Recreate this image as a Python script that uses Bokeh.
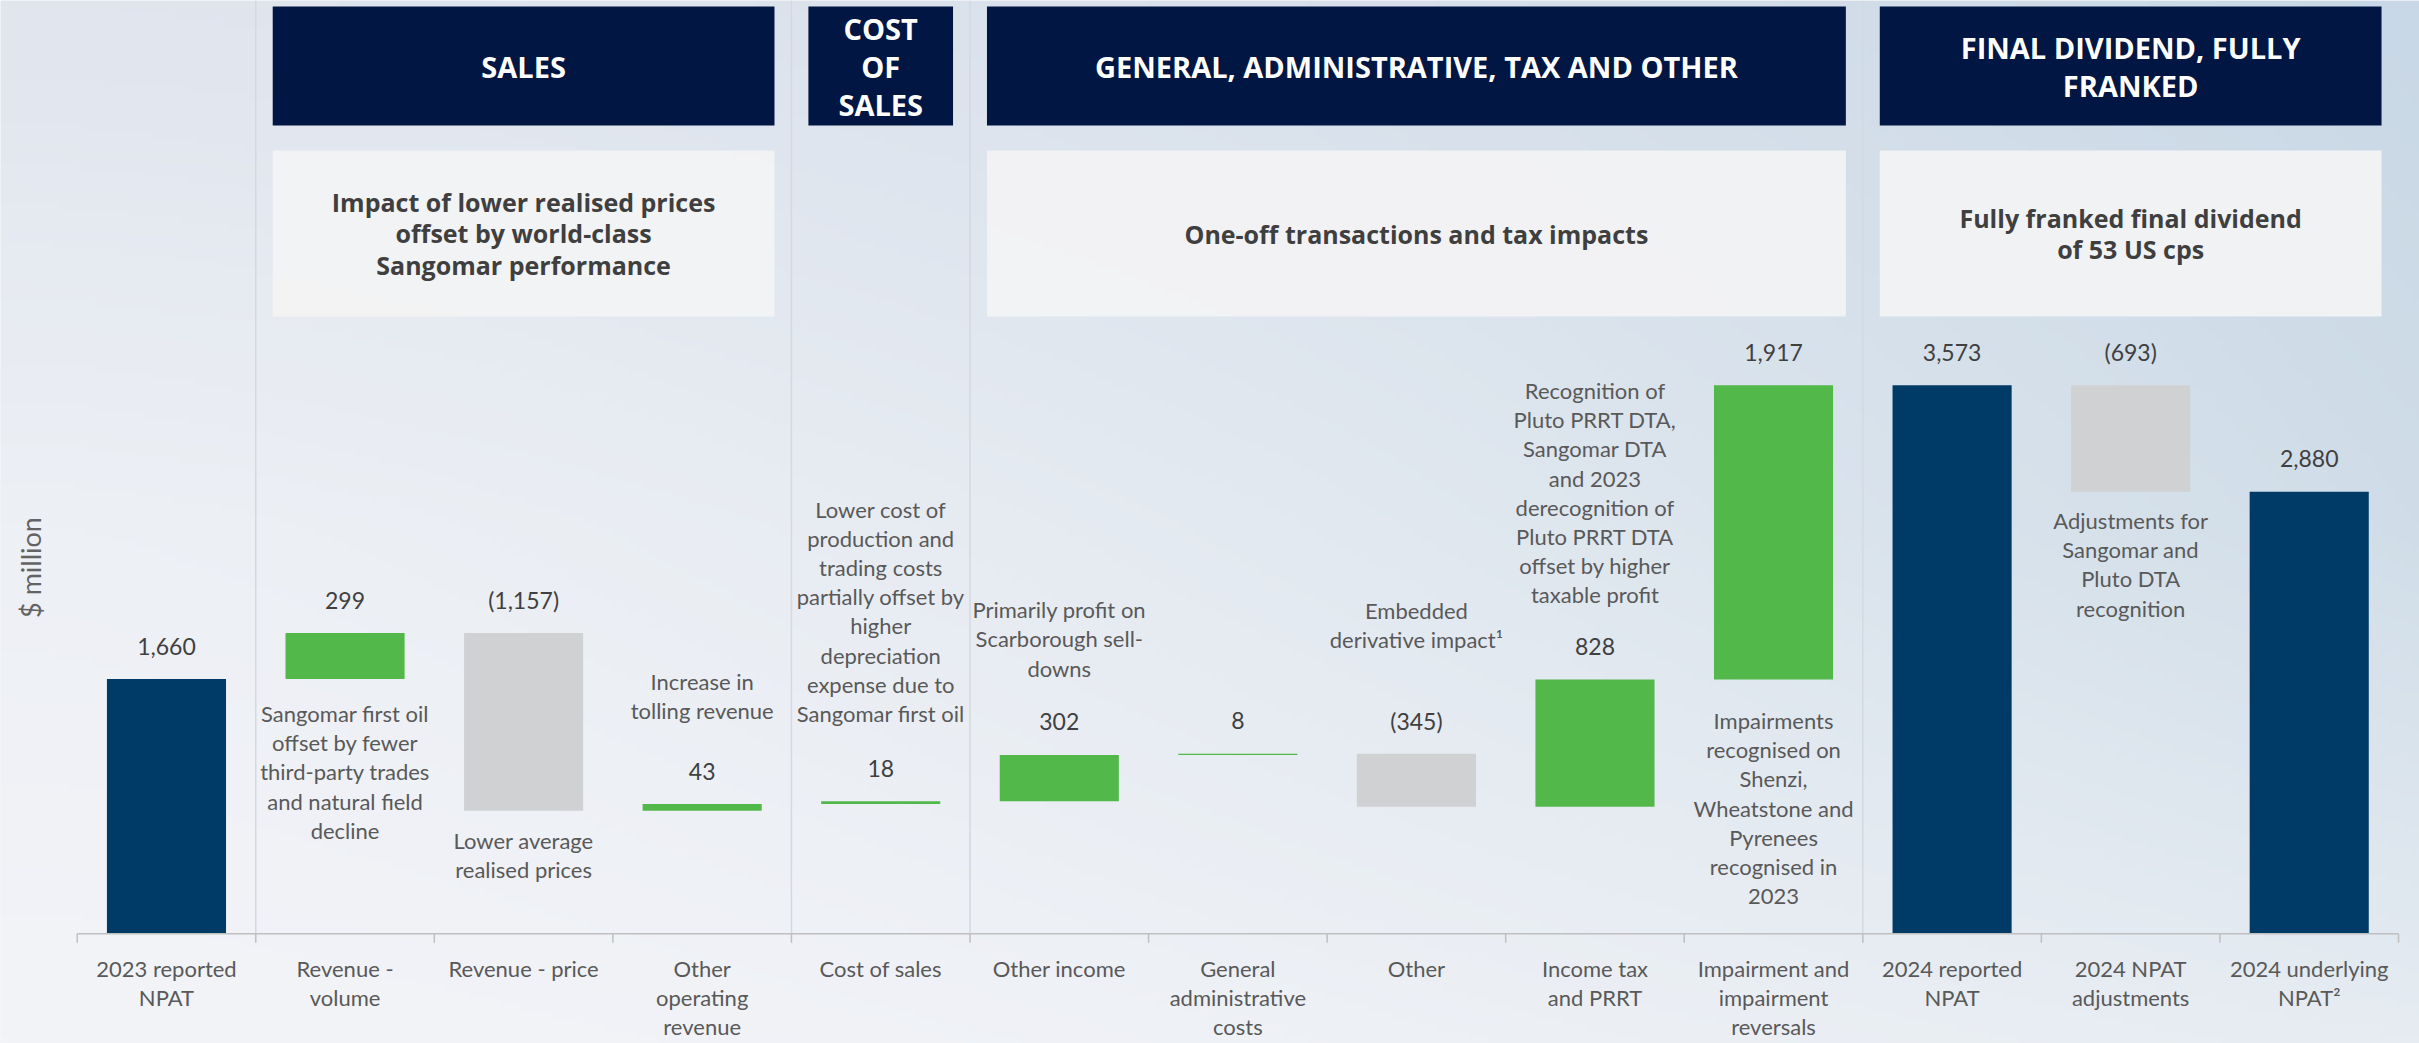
import numpy as np
from bokeh.plotting import figure
from bokeh.models import Range1d, ColumnDataSource
from bokeh.core.properties import value
from bokeh.embed import file_html
from bokeh.resources import INLINE

# ---------------- data ----------------
categories = [
    "2023 reported\nNPAT", "Revenue -\nvolume", "Revenue - price",
    "Other\noperating\nrevenue", "Cost of sales", "Other income",
    "General\nadministrative\ncosts", "Other", "Income tax\nand PRRT",
    "Impairment and\nimpairment\nreversals", "2024 reported\nNPAT",
    "2024 NPAT\nadjustments", "2024 underlying\nNPAT\u00b2",
]
values = [1660, 299, -1157, 43, 18, 302, 8, -345, 828, 1917, 3573, -693, 2880]
kinds = ["total", "delta", "delta", "delta", "delta", "delta", "delta",
         "delta", "delta", "delta", "total", "delta", "total"]

section_titles = ["SALES", "COST\nOF\nSALES",
                  "GENERAL, ADMINISTRATIVE, TAX AND OTHER",
                  "FINAL DIVIDEND, FULLY\nFRANKED"]
section_notes = ["Impact of lower realised prices\noffset by world-class\nSangomar performance",
                 "", "One-off transactions and tax impacts",
                 "Fully franked final dividend\nof 53 US cps"]
section_first = [1, 4, 5, 10]
section_last = [3, 4, 9, 12]

note_index = [1, 2, 3, 4, 5, 7, 8, 9, 11]
note_texts = [
    "Sangomar first oil\noffset by fewer\nthird-party trades\nand natural field\ndecline",
    "Lower average\nrealised prices",
    "Increase in\ntolling revenue",
    "Lower cost of\nproduction and\ntrading costs\npartially offset by\nhigher\ndepreciation\nexpense due to\nSangomar first oil",
    "Primarily profit on\nScarborough sell-\ndowns",
    "Embedded\nderivative impact\u00b9",
    "Recognition of\nPluto PRRT DTA,\nSangomar DTA\nand 2023\nderecognition of\nPluto PRRT DTA\noffset by higher\ntaxable profit",
    "Impairments\nrecognised on\nShenzi,\nWheatstone and\nPyrenees\nrecognised in\n2023",
    "Adjustments for\nSangomar and\nPluto DTA\nrecognition",
]
y_title = "$ million"

# ---------------- layout / style ----------------
W, H = 2419, 1043
PLOT_L, PLOT_R = 76.7, 2398.0    # category area, px from figure left
BASE = 933.3                     # baseline, px from figure top
PX = (PLOT_R - PLOT_L) / 13.0    # px per category
UPP = 6.515                      # data units per pixel

def y_of(px_from_top):
    return (BASE - px_from_top) * UPP

def x_of(px_from_left):
    return -0.5 + (px_from_left - PLOT_L) / PX

note_side = ["below", "below", "above", "above", "above", "above", "above", "below", "below"]
note_off_px = [93, 44.5, 108, 190, 116, 128.5, 187, 128.5, 72.6]

NAVY = "#003B68"
GREEN = "#52B84A"
GREY = "#D0D1D3"
HEAD = "#011643"
TXT = "#595959"
VAL = "#404040"
AXIS = "#BFBFBF"

# ---------------- waterfall geometry ----------------
xs = list(range(len(categories)))
bottoms, tops, colors = [], [], []
running = 0
for v, k in zip(values, kinds):
    if k == "total":
        b, t = 0, v
        running = v
        c = NAVY
    else:
        b, t = min(running, running + v), max(running, running + v)
        running += v
        c = GREEN if v > 0 else GREY
    bottoms.append(b); tops.append(t); colors.append(c)
labels = [f"{v:,}" if v >= 0 else f"({-v:,})" for v in values]

X0, X1 = x_of(0), x_of(W)
Y0, Y1 = y_of(H), y_of(0)
p = figure(width=W, height=H, output_backend="svg", toolbar_location=None,
           x_range=Range1d(X0, X1), y_range=Range1d(Y0, Y1),
           x_axis_location=None, y_axis_location=None,
           min_border_left=0, min_border_right=0, min_border_top=0, min_border_bottom=0)
p.outline_line_color = None
p.xgrid.visible = False
p.ygrid.visible = False
p.border_fill_color = "#EFF2F6"
p.background_fill_color = "#EAEEF4"

# background gradient (decorative)
Hi, Wi = 160, 320
v = np.linspace(0, 1, Hi)[:, None]          # 0 bottom, 1 top
u = (np.linspace(0, 1, Wi)[None, :]) ** 1.6
def col(hexs):
    return np.array([int(hexs[i:i + 2], 16) for i in (1, 3, 5)], dtype=float)
def vert(c0, c1, c2):
    a, b, c = col(c0), col(c1), col(c2)
    vv = v[..., None]
    return np.where(vv < 0.5, a + (b - a) * (vv / 0.5), b + (c - b) * ((vv - 0.5) / 0.5))
Lc = vert("#F3F4F8", "#EDF0F5", "#E0E5EE")
Rc = vert("#E6ECF2", "#D0DDE8", "#C9D8E6")
img = Lc + (Rc - Lc) * u[..., None]
rgba = np.zeros((Hi, Wi, 4), dtype=np.uint8)
rgba[..., :3] = np.clip(img, 0, 255).astype(np.uint8)
rgba[..., 3] = 255
p.image_rgba(image=[rgba.view(dtype=np.uint32).reshape(Hi, Wi)],
             x=X0, y=Y0, dw=X1 - X0, dh=Y1 - Y0)

# separators between sections
sep_x = [f - 0.5 for f in section_first]
p.segment(x0=sep_x, y0=[0] * 4, x1=sep_x, y1=[Y1] * 4, line_color="#D3D9E1", line_width=1.5)

# headers and sub-headers
INSET = 0.095
hl = [f - 0.5 + INSET for f in section_first]
hr = [l + 0.5 - INSET for l in section_last]
p.quad(left=hl, right=hr, bottom=[y_of(125)] * 4, top=[y_of(6)] * 4,
       fill_color=HEAD, line_color=None)
hx = [(a + b) / 2 for a, b in zip(hl, hr)]
p.text(x=hx, y=[y_of(66)] * 4, text=section_titles, text_align="center",
       text_baseline="middle", text_color="white", text_font=value("Open Sans"),
       text_font_style="bold", text_font_size="29px", text_line_height=0.98)

sub_i = [i for i, s in enumerate(section_notes) if s]
p.quad(left=[hl[i] for i in sub_i], right=[hr[i] for i in sub_i],
       bottom=[y_of(316)] * len(sub_i), top=[y_of(150)] * len(sub_i),
       fill_color="#F3F3F4", fill_alpha=0.93, line_color=None)
p.text(x=[hx[i] for i in sub_i], y=[y_of(233)] * len(sub_i),
       text=[section_notes[i] for i in sub_i], text_align="center",
       text_baseline="middle", text_color="#3F3F3F", text_font=value("Open Sans"),
       text_font_style="bold", text_font_size="25px", text_line_height=0.93)

# bars
src = ColumnDataSource(dict(x=xs, bottom=bottoms, top=tops, color=colors))
p.vbar(x="x", width=0.667, bottom="bottom", top="top", fill_color="color",
       line_color=None, source=src)

# value labels
p.text(x=xs, y=[t + 33 * UPP for t in tops], text=labels, text_align="center",
       text_baseline="middle", text_color=VAL, text_font=value("Lato"),
       text_font_size="23px")

# notes
ny = []
for i, side, off in zip(note_index, note_side, note_off_px):
    ny.append(tops[i] + off * UPP if side == "above" else bottoms[i] - off * UPP)
p.text(x=note_index, y=ny, text=note_texts, text_align="center",
       text_baseline="middle", text_color=TXT, text_font=value("Lato"),
       text_font_size="22px", text_line_height=1.08)

# category axis: baseline, boundary ticks, labels
bounds = [i - 0.5 for i in range(len(categories) + 1)]
p.segment(x0=[-0.5], y0=[0], x1=[len(categories) - 0.5], y1=[0],
          line_color=AXIS, line_width=1.5)
p.segment(x0=bounds, y0=[0] * len(bounds), x1=bounds, y1=[y_of(BASE + 9)] * len(bounds),
          line_color=AXIS, line_width=1.5)
p.text(x=xs, y=[y_of(BASE + 21)] * len(xs), text=categories, text_align="center",
       text_baseline="top", text_color=TXT, text_font=value("Lato"),
       text_font_size="22px", text_line_height=1.08)

# y title
p.text(x=[x_of(30)], y=[y_of(567)], text=[y_title], angle=np.pi / 2,
       text_align="center", text_baseline="middle", text_color="#636363",
       text_font=value("Lato"), text_font_size="27px")

open("out.html", "w").write(file_html(p, INLINE))
